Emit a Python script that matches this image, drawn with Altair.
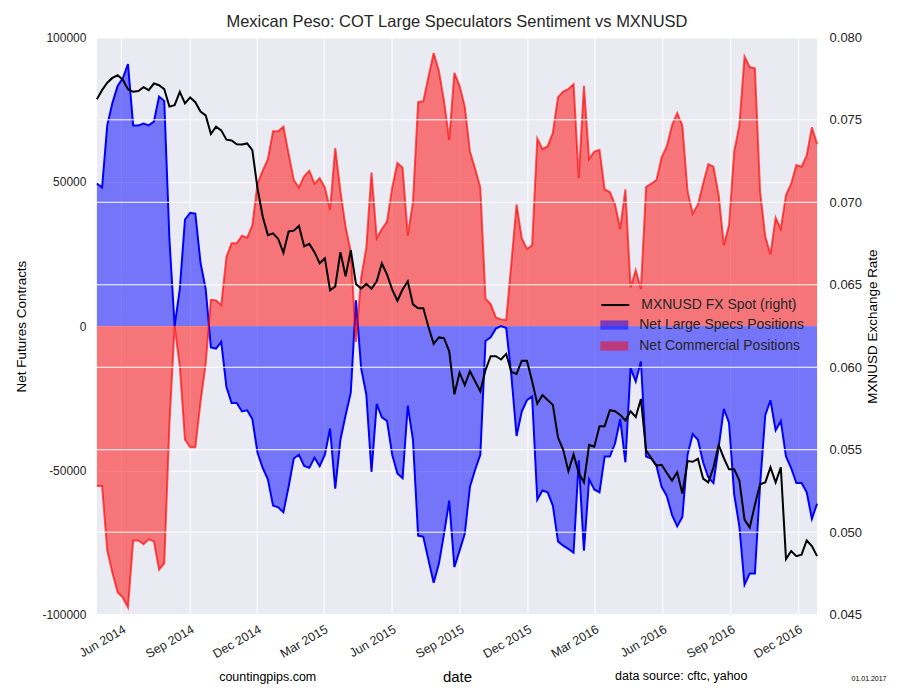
import altair as alt
import pandas as pd

# ---------------- data (weekly COT dates, Tuesdays) ----------------
start_date = "2014-04-29"
n_weeks = 140
dates = pd.date_range(start_date, periods=n_weeks, freq="7D").strftime("%Y-%m-%d").tolist()

large_specs = [
    49400, 48000, 69500, 77300, 83200, 85800, 90700, 69500, 69500, 70100,
    69500, 70800, 79500, 78000, 30000, 0, 12800, 36900, 39200, 38900,
    21900, 12800, -7400, -7800, -5500, -21100, -26700, -26700, -29600, -29200,
    -32200, -43900, -49100, -53100, -62200, -62800, -64500, -55700, -45900, -44600,
    -48500, -49100, -45600, -48500,
    -44600, -35500, -56300, -39400, -30900, -23100, 8900, -14600, -23700, -50500,
    -27000, -31600, -32900, -44600, -51100, -52700, -27600, -39400, -72600, -73000,
    -81100, -88900, -82400, -72000, -60500, -83500, -77800, -72000, -55700, -49800,
    -44600, -5200, -3900, -900, 0, -700, -17200, -38100, -29600, -25700,
    -24400, -60200, -57000, -57600, -62200,
    -74600, -76100, -77200, -78500, -46500, -77800, -53100, -56600, -57600, -45200,
    -45200, -40700, -32200, -47200, -14600, -19200, -12300, -45200, -45900, -48500,
    -55700, -58900, -65400, -69400, -66100, -44600, -37400, -39400, -47200, -52400,
    -54400, -42000, -28700, -33500, -58300, -69400, -89600, -85700, -85700, -55000,
    -30900, -25700, -36100, -32900, -45200, -49200, -54400, -54400, -57600, -66800,
    -61500,
]

commercial = [
    -55400, -55400, -77800, -85600, -92200, -94100, -97400, -74300, -74300, -75600,
    -73900, -74600, -84400, -82200, -34000, 0, -14000, -39400, -42000, -42000,
    -26300, -13000, 9100, 8900, 7200, 23900, 28700, 28700, 31300, 30600,
    34900, 49300, 53800, 57800, 67500, 67500, 69100, 59700, 50600, 48000,
    51900, 53800, 49300, 51200,
    48000, 40200, 61600, 46700, 34300, 25800, -5500, 16700, 27100, 53200,
    30400, 33600, 36200, 48000, 56500, 54800, 31300, 42800, 77600, 77900,
    86400, 94600, 88400, 77900, 64500, 87700, 83200, 76000, 60400, 54500,
    48000, 9500, 7600, 3000, 2300, 2100, 21900, 42100, 30400, 26700,
    28000, 64900, 61300, 62300, 66900,
    79300, 81200, 82100, 83800, 51200, 83200, 57800, 60400, 61000, 47300,
    46400, 42100, 33600, 47300, 13400, 19300, 12800, 48200, 49300, 50600,
    58400, 62300, 69500, 73800, 69500, 46700, 38900, 42100, 49300, 56100,
    55200, 45400, 28000, 34900, 60400, 69500, 93400, 89700, 89300, 46700,
    31000, 24800, 37500, 33600, 45400, 49300, 55800, 55200, 59100, 68800,
    63000,
]

mxnusd = [
    0.07625, 0.0768, 0.07725, 0.07754, 0.0777, 0.07743, 0.07686, 0.0767, 0.07675, 0.07698,
    0.0768, 0.0772, 0.0771, 0.07686, 0.0758, 0.07589, 0.0767, 0.0760, 0.07636, 0.07607,
    0.0755, 0.07527, 0.07414, 0.07459, 0.07436, 0.0738, 0.07375, 0.07352, 0.0735, 0.07357,
    0.07316, 0.07084, 0.06914, 0.06801, 0.06812, 0.06778, 0.06694, 0.06823, 0.06828, 0.06857,
    0.06733, 0.06748, 0.06698, 0.0663,
    0.0666, 0.06467, 0.0649, 0.06698, 0.06551, 0.0671, 0.06505, 0.06476, 0.06505, 0.06476,
    0.06521, 0.0663, 0.06562, 0.06471, 0.06403, 0.06471, 0.06521, 0.06381, 0.06358, 0.06358,
    0.06244, 0.06142, 0.06181, 0.06176, 0.06097, 0.05836, 0.05967, 0.05892, 0.05976, 0.05915,
    0.05854, 0.05983, 0.06067, 0.06067, 0.06047, 0.06081, 0.05972, 0.0596, 0.0604, 0.0604,
    0.05915, 0.05779, 0.05831, 0.05802, 0.05772,
    0.05574, 0.05500, 0.05370, 0.05472, 0.05359, 0.05302, 0.05529, 0.05518, 0.05643, 0.05643,
    0.05740, 0.05733, 0.05711, 0.05677, 0.05733, 0.05699, 0.05808, 0.05495, 0.05450, 0.05404,
    0.05409, 0.05359, 0.05313, 0.05363, 0.05234, 0.05431, 0.05427, 0.05445, 0.05325, 0.05302,
    0.05393, 0.05529, 0.05450, 0.05381, 0.05381, 0.05313, 0.05075, 0.05029, 0.05166, 0.05291,
    0.05302, 0.05393, 0.05302, 0.05393, 0.04837, 0.04886, 0.04855, 0.04864, 0.0495, 0.04916,
    0.04855,
]

specs_label = "Net Large Specs Positions"
comm_label = "Net Commercial Positions"
spot_label = "MXNUSD FX Spot (right)"

x_tick_months = [(2014, 6), (2014, 9), (2014, 12), (2015, 3), (2015, 6), (2015, 9),
                 (2015, 12), (2016, 3), (2016, 6), (2016, 9), (2016, 12)]
left_ticks = [-100000, -50000, 0, 50000, 100000]
right_ticks = [0.045, 0.050, 0.055, 0.060, 0.065, 0.070, 0.075, 0.080]

title_text = "Mexican Peso: COT Large Speculators Sentiment vs MXNUSD"
footer_left = "countingpips.com"
footer_right = "data source: cftc, yahoo"
footer_date = "01.01.2017"

# ---------------- tables ----------------
df_pos = pd.DataFrame({
    "date": dates * 2,
    "series": [specs_label] * n_weeks + [comm_label] * n_weeks,
    "value": large_specs + commercial,
})
df_fx = pd.DataFrame({"date": dates, "rate": mxnusd, "series": [spot_label] * n_weeks})
df_rgrid = pd.DataFrame({"v": right_ticks})

FONT = "Liberation Sans"
W, H = 721, 578

x_scale = alt.Scale(type="utc", nice=False)
x_axis = alt.Axis(
    values=[alt.DateTime(year=y, month=m, date=1, utc=True) for y, m in x_tick_months],
    format="%b %Y", labelAngle=330, labelAlign="right", labelBaseline="top",
    labelPadding=8, labelFontSize=12.5, ticks=False, domain=False,
    grid=True, gridColor="white", gridWidth=1,
    title="date", titleFontSize=15, titleFontWeight="normal",
    titleX=W / 2, titleY=62, titleBaseline="middle",
)
X = alt.X("date:T", scale=x_scale, axis=x_axis)

left_scale = alt.Scale(domain=[-100000, 100000], nice=False, zero=False)
left_axis = alt.Axis(
    values=left_ticks, labelExpr="'' + datum.value", labelFontSize=12, labelPadding=11,
    ticks=False, domain=False, grid=True, gridColor="white", gridWidth=1,
    title="Net Futures Contracts", titleFontSize=13.5, titleFontWeight="normal",
    titleAngle=270, titleX=-75, titleY=H / 2, titleAlign="center", titleBaseline="middle",
)
right_scale = alt.Scale(domain=[0.045, 0.080], nice=False, zero=False)
right_axis = alt.Axis(
    orient="right", values=right_ticks, format=".3f", labelFontSize=13, labelPadding=12,
    ticks=False, domain=False, grid=False,
    title="MXNUSD Exchange Rate", titleFontSize=13.5, titleFontWeight="normal",
    titleAngle=270, titleX=55, titleY=H / 2, titleAlign="center", titleBaseline="middle",
)

rect_path = "M-2,-0.66H2V0.66H-2Z"
line_path = "M-2,0H2"

areas = alt.Chart(df_pos).mark_area(fillOpacity=0.5, strokeWidth=0).encode(
    x=X,
    y=alt.Y("value:Q", stack=None, scale=left_scale, axis=left_axis),
    fill=alt.Fill("series:N",
                  scale=alt.Scale(domain=[specs_label, comm_label], range=["blue", "red"]),
                  legend=alt.Legend(orient="none", legendX=511, legendY=281, title=None,
                                    symbolType=rect_path, symbolSize=196, symbolOpacity=0.5,
                                    symbolStrokeWidth=0, labelFontSize=14, labelOffset=18,
                                    labelLimit=400, rowPadding=7, padding=0,
                                    labelColor="#262626")),
)
blue_line = alt.Chart(df_pos).transform_filter(
    alt.datum.series == specs_label
).mark_line(color="blue", strokeWidth=2).encode(x=X, y=alt.Y("value:Q", scale=left_scale))
red_line = alt.Chart(df_pos).transform_filter(
    alt.datum.series == comm_label
).mark_line(color="red", strokeWidth=2, opacity=0.65).encode(x=X, y=alt.Y("value:Q", scale=left_scale))

foot1 = alt.Chart(pd.DataFrame({"t": [footer_left]})).mark_text(
    font=FONT, fontSize=12.5, baseline="middle", align="center", color="black"
).encode(text="t:N", x=alt.value(171), y=alt.value(640))
foot2 = alt.Chart(pd.DataFrame({"t": [footer_right]})).mark_text(
    font=FONT, fontSize=12.5, baseline="middle", align="center", color="black"
).encode(text="t:N", x=alt.value(585), y=alt.value(639))
foot3 = alt.Chart(pd.DataFrame({"t": [footer_date]})).mark_text(
    font=FONT, fontSize=7, baseline="middle", align="center", color="black"
).encode(text="t:N", x=alt.value(773), y=alt.value(642))

left = alt.layer(areas, blue_line, red_line, foot1, foot2, foot3)

rgrid = alt.Chart(df_rgrid).mark_rule(color="white", strokeWidth=1).encode(
    y=alt.Y("v:Q", scale=right_scale, axis=right_axis)
)
fx_line = alt.Chart(df_fx).mark_line(strokeWidth=2).encode(
    x=X,
    y=alt.Y("rate:Q", scale=right_scale, axis=right_axis),
    stroke=alt.Stroke("series:N", scale=alt.Scale(domain=[spot_label], range=["black"]),
                      legend=alt.Legend(orient="none", legendX=511, legendY=260, title=None,
                                        symbolType=line_path, symbolSize=196, symbolStrokeWidth=2,
                                        labelFontSize=14, labelOffset=18, labelLimit=400,
                                        padding=0, labelColor="#262626")),
)
right = alt.layer(rgrid, fx_line)

chart = alt.layer(left, right).resolve_scale(y="independent").properties(
    width=W, height=H,
    title=alt.TitleParams(title_text, fontSize=16.5, font=FONT, fontWeight="normal",
                          anchor="middle", frame="group", offset=10, dy=9, color="#262626"),
    padding={"left": 89, "top": 29, "right": 75, "bottom": 69},
    autosize=alt.AutoSizeParams(type="none"),
).configure(font=FONT).configure_view(fill="#EAEAF2", stroke=None).configure_axis(
    labelFont=FONT, titleFont=FONT, labelColor="#262626", titleColor="black"
).configure_legend(labelFont=FONT)

chart.save("out.html", embed_options={"renderer": "svg", "actions": False})
